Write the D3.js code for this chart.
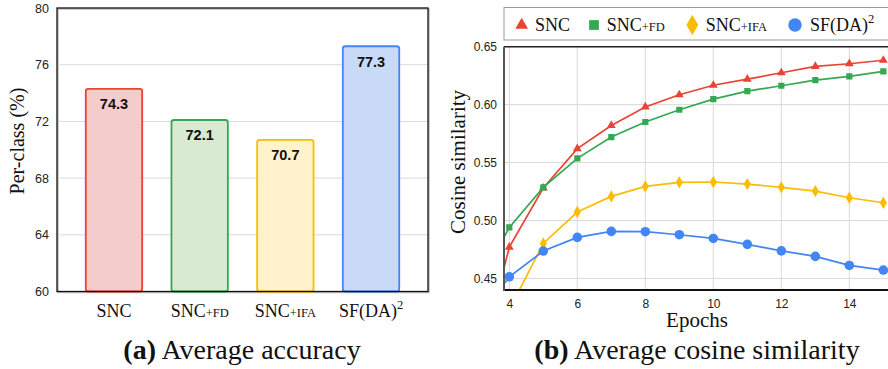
<!DOCTYPE html>
<html><head><meta charset="utf-8">
<script src="https://cdn.jsdelivr.net/npm/d3@7"></script>
<style>
html,body{margin:0;padding:0;background:#fff;}
svg{display:block;}
</style></head>
<body>
<svg id="chart" width="888" height="369"></svg>
<script>
// ---------- DATA ----------
const categories = ["SNC", "SNC+FD", "SNC+IFA", "SF(DA)²"];
const accuracy = [74.3, 72.1, 70.7, 77.3];
const accTicks = [60, 64, 68, 72, 76, 80];

const epochs = [3, 4, 5, 6, 7, 8, 9, 10, 11, 12, 13, 14, 15];
const sncSim = [0.362, 0.477, 0.528, 0.562, 0.582, 0.598, 0.6085, 0.6167, 0.622, 0.6275, 0.633, 0.6353, 0.6383];
const sncFdSim = [0.440, 0.494, 0.5286, 0.5536, 0.572, 0.585, 0.5956, 0.6048, 0.6117, 0.6163, 0.6212, 0.6244, 0.6287];
const sncIfaSim = [0.300, 0.423, 0.4802, 0.5073, 0.5208, 0.5294, 0.5329, 0.5332, 0.5314, 0.5286, 0.5254, 0.5196, 0.5153];
const sfdaSim = [0.4125, 0.4514, 0.4736, 0.4854, 0.4906, 0.4903, 0.4877, 0.4845, 0.4794, 0.4738, 0.469, 0.4612, 0.4572];
const simTicks = [0.45, 0.50, 0.55, 0.60, 0.65];
const epochTicks = [4, 6, 8, 10, 12, 14];

const strokeColors = ["#ea4335", "#34a853", "#fbbc04", "#4285f4"];
const fillColors = ["#f4cccc", "#d9ead3", "#fff2cc", "#c9daf8"];
const markers = ["triangle", "square", "diamond", "circle"];

const SERIF = "'Liberation Serif','Times New Roman',serif";
const SANS = "'Liberation Sans',Arial,sans-serif";

const svg = d3.select("#chart");

// rich label: "+XX" in small size, "²" as superscript
function richLabel(sel, label, size, small) {
  const plusIdx = label.indexOf("+");
  if (plusIdx >= 0) {
    sel.append("tspan").text(label.slice(0, plusIdx));
    sel.append("tspan").attr("font-size", small).text(label.slice(plusIdx));
  } else if (label.includes("²")) {
    sel.append("tspan").text(label.replace("²", ""));
    sel.append("tspan").attr("font-size", small).attr("dy", -size * 0.42).text("2");
  } else {
    sel.text(label);
  }
}

// ---------- LEFT: bar chart ----------
const L = {x0: 57, x1: 428, y0: 8, y1: 291.5};
const xb = d3.scaleBand().domain(categories).range([L.x0, L.x1]).padding(0.33);
const yb = d3.scaleLinear().domain([60, 80]).range([L.y1, L.y0]);

const gL = svg.append("g");
// shadow
gL.append("rect").attr("x", L.x0 + 1).attr("y", L.y0 + 1).attr("width", L.x1 - L.x0).attr("height", L.y1 - L.y0)
  .attr("fill", "none").attr("stroke", "#bbb").attr("stroke-width", 1.5);
// grid
gL.selectAll("line.grid").data(accTicks.filter(t => t > 60 && t < 80)).join("line")
  .attr("x1", L.x0).attr("x2", L.x1).attr("y1", d => yb(d)).attr("y2", d => yb(d))
  .attr("stroke", "#d9d9d9").attr("stroke-width", 1);
// y axis
const yAxisL = d3.axisLeft(yb).tickValues(accTicks).tickSize(0).tickPadding(8).tickFormat(d3.format("d"));
gL.append("g").attr("transform", `translate(${L.x0},0)`).call(yAxisL)
  .call(g => g.select(".domain").remove())
  .call(g => g.selectAll("text").attr("font-family", SANS).attr("font-size", 12.5).attr("fill", "#222"));
// bars
gL.selectAll("rect.bar").data(categories).join("rect")
  .attr("x", d => xb(d) + 0.5).attr("width", xb.bandwidth() - 1)
  .attr("y", (d, i) => yb(accuracy[i])).attr("height", (d, i) => yb(60) - yb(accuracy[i]))
  .attr("rx", 2.5)
  .attr("fill", (d, i) => fillColors[i]).attr("stroke", (d, i) => strokeColors[i]).attr("stroke-width", 1.8);
// value labels
gL.selectAll("text.val").data(categories).join("text")
  .attr("x", d => xb(d) + xb.bandwidth() / 2)
  .attr("y", (d, i) => yb(accuracy[i]) + 20.5)
  .attr("text-anchor", "middle").attr("font-family", SANS).attr("font-weight", "bold")
  .attr("font-size", 14.5).attr("fill", "#111")
  .text((d, i) => accuracy[i].toFixed(1));
// frame
gL.append("rect").attr("x", L.x0).attr("y", L.y0).attr("width", L.x1 - L.x0).attr("height", L.y1 - L.y0)
  .attr("fill", "none").attr("stroke", "#111").attr("stroke-width", 1.3);
// x labels
categories.forEach(c => {
  const t = gL.append("text").attr("x", xb(c) + xb.bandwidth() / 2).attr("y", 317)
    .attr("text-anchor", "middle").attr("font-family", SERIF).attr("font-size", 18).attr("fill", "#111");
  richLabel(t, c, 18, 12.5);
});
// y title
gL.append("text").attr("transform", `translate(24,141) rotate(-90)`)
  .attr("text-anchor", "middle").attr("font-family", SERIF).attr("font-size", 20).attr("fill", "#111")
  .text("Per-class (%)");
// caption
const capA = gL.append("text").attr("x", 242).attr("y", 359).attr("text-anchor", "middle")
  .attr("font-family", SERIF).attr("font-size", 28).attr("fill", "#111");
capA.append("tspan").attr("font-weight", "bold").text("(a)");
capA.append("tspan").text(" Average accuracy");

// ---------- RIGHT: line chart ----------
const R = {x0: 504, x1: 900, y0: 46.7, y1: 290};
const xe = d3.scaleLinear().domain([3.844, 15.49]).range([R.x0, R.x1]);
const ye = d3.scaleLinear().domain([0.44, 0.65]).range([R.y1, R.y0]);

const gR = svg.append("g");
svg.append("defs").append("clipPath").attr("id", "clipR")
  .append("rect").attr("x", R.x0).attr("y", R.y0).attr("width", R.x1 - R.x0).attr("height", R.y1 - R.y0);

// grid
gR.selectAll("line.hg").data(simTicks).join("line")
  .attr("x1", R.x0).attr("x2", R.x1).attr("y1", d => ye(d)).attr("y2", d => ye(d))
  .attr("stroke", "#d9d9d9").attr("stroke-width", 1);
gR.selectAll("line.vg").data(epochTicks).join("line")
  .attr("x1", d => xe(d)).attr("x2", d => xe(d)).attr("y1", R.y0).attr("y2", R.y1)
  .attr("stroke", "#d9d9d9").attr("stroke-width", 1);

// axes labels
gR.append("g").attr("transform", `translate(${R.x0},0)`)
  .call(d3.axisLeft(ye).tickValues(simTicks).tickSize(0).tickPadding(7).tickFormat(d3.format(".2f")))
  .call(g => g.select(".domain").remove())
  .call(g => g.selectAll("text").attr("font-family", SANS).attr("font-size", 12).attr("fill", "#222"));
gR.append("g").attr("transform", `translate(0,${R.y1})`)
  .call(d3.axisBottom(xe).tickValues(epochTicks).tickSize(0).tickPadding(9).tickFormat(d3.format("d")))
  .call(g => g.select(".domain").remove())
  .call(g => g.selectAll("text").attr("font-family", SANS).attr("font-size", 12).attr("fill", "#222"));

// series
const series = [sncSim, sncFdSim, sncIfaSim, sfdaSim];
const plot = gR.append("g").attr("clip-path", "url(#clipR)");
const line = d3.line().x((d, i) => xe(epochs[i])).y(d => ye(d));
const symType = {triangle: d3.symbolTriangle, square: d3.symbolSquare, diamond: d3.symbolDiamond, circle: d3.symbolCircle};
const symSize = {triangle: 34, square: 38, diamond: 44, circle: 72};
const legSize = {triangle: 70, square: 95, diamond: 120, circle: 140};
series.forEach((s, k) => {
  plot.append("path").datum(s).attr("d", line).attr("fill", "none")
    .attr("stroke", strokeColors[k]).attr("stroke-width", 1.7);
  plot.selectAll(null).data(s).join("path")
    .attr("transform", (d, i) => `translate(${xe(epochs[i])},${ye(d)})`)
    .attr("d", d3.symbol().type(symType[markers[k]]).size(symSize[markers[k]]))
    .attr("fill", strokeColors[k]);
});

// frame
gR.append("line").attr("x1", R.x0).attr("x2", R.x1).attr("y1", R.y0).attr("y2", R.y0).attr("stroke", "#222").attr("stroke-width", 1.4);
gR.append("line").attr("x1", R.x0).attr("x2", R.x1).attr("y1", R.y1).attr("y2", R.y1).attr("stroke", "#111").attr("stroke-width", 2);
gR.append("line").attr("x1", R.x0).attr("x2", R.x0).attr("y1", R.y0).attr("y2", R.y1 + 1).attr("stroke", "#555").attr("stroke-width", 2);

// titles
gR.append("text").attr("transform", `translate(465,162) rotate(-90)`)
  .attr("text-anchor", "middle").attr("font-family", SERIF).attr("font-size", 21).attr("fill", "#111")
  .text("Cosine similarity");
gR.append("text").attr("x", 697).attr("y", 327).attr("text-anchor", "middle")
  .attr("font-family", SERIF).attr("font-size", 21).attr("fill", "#111").text("Epochs");
const capB = gR.append("text").attr("x", 697).attr("y", 359).attr("text-anchor", "middle")
  .attr("font-family", SERIF).attr("font-size", 28).attr("fill", "#111");
capB.append("tspan").attr("font-weight", "bold").text("(b)");
capB.append("tspan").text(" Average cosine similarity");

// legend
gR.append("rect").attr("x", 504).attr("y", 7.5).attr("width", 400).attr("height", 32.5)
  .attr("fill", "#fff").attr("stroke", "#999").attr("stroke-width", 1);
const legX = [521.7, 594, 692.3, 795];
const legTX = [535, 606.7, 705.7, 810];
categories.forEach((c, k) => {
  gR.append("path").attr("transform", `translate(${legX[k]},25)`)
    .attr("d", d3.symbol().type(symType[markers[k]]).size(legSize[markers[k]]))
    .attr("fill", strokeColors[k]);
  const t = gR.append("text").attr("x", legTX[k]).attr("y", 31)
    .attr("font-family", SERIF).attr("font-size", 18).attr("fill", "#111");
  richLabel(t, c, 18, 12.5);
});
</script>
</body></html>
